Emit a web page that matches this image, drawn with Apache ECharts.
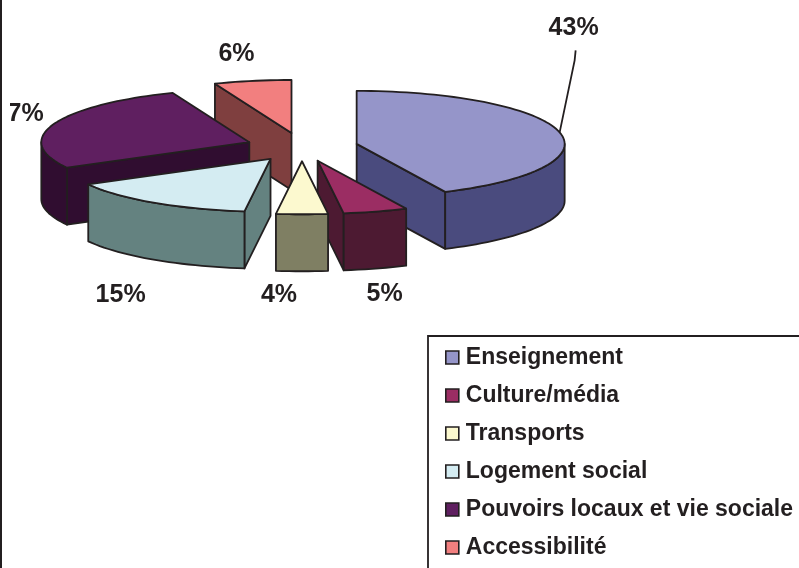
<!DOCTYPE html>
<html>
<head>
<meta charset="utf-8">
<script src="https://cdn.jsdelivr.net/npm/echarts@6/dist/echarts.min.js"></script>
<style>
  html, body { margin: 0; background: #fff; }
  .frame {
    position: relative;
    width: 799px;
    height: 568px;
    overflow: hidden;
    border-left: 2px solid #231f20;
    box-sizing: border-box;
  }
  #chart { position: absolute; left: 8px; top: 0; width: 789px; height: 568px; }
</style>
</head>
<body>
<div class="frame"><div id="chart"></div></div>
<script>
// data
const CATEGORIES = ['Enseignement', 'Culture/média', 'Transports', 'Logement social', 'Pouvoirs locaux et vie sociale', 'Accessibilité']
const VALUES = [43, 5, 4, 15, 27, 6]

// styles
const TOP_COLORS = ['#9595c9', '#9b2d63', '#fcf9cf', '#d4ecf2', '#5f1f60', '#f27f7f']
const SIDE_COLORS = ['#4a4b7e', '#4d1a32', '#7f7f63', '#648280', '#300d30', '#7f3f3f']
const INK = '#231f20'
const FONT = '"Liberation Sans", Arial, sans-serif'

// pseudo-3D geometry (px)
const CX = 292, CY = 147, RX = 208, RY = 53, DEPTH = 57, EXPLODE = 56
// label nudges from the outer mid point of each slice
const LABEL_NUDGE = [[14, -104], [9, 83], [-23, 81], [-33, 92], [-35, -10], [-16, -27]]

const TOTAL = VALUES.reduce((a, b) => a + b, 0)
const rad = (d) => d * Math.PI / 180

function pt(ox, oy, deg, dy = 0) {
  return [ox + RX * Math.sin(rad(deg)), oy - RY * Math.cos(rad(deg)) + dy]
}
function arc(ox, oy, a0, a1, dy = 0) {
  const out = []
  const n = Math.max(2, Math.ceil(Math.abs(a1 - a0) / 2))
  for (let k = 0; k <= n; k++) out.push(pt(ox, oy, a0 + (a1 - a0) * k / n, dy))
  return out
}

function renderSlice(params, api) {
  const i = params.seriesIndex
  const v = api.value(0)
  let before = 0
  for (let k = 0; k < i; k++) before += VALUES[k]
  const a0 = before / TOTAL * 360
  const a1 = a0 + v / TOTAL * 360
  const mid = (a0 + a1) / 2
  // exploded apex
  const ox = CX + EXPLODE * Math.sin(rad(mid))
  const oy = CY - EXPLODE * (RY / RX) * Math.cos(rad(mid))
  const front = -Math.cos(rad(mid))
  const zBase = Math.round((front + 1) * 100) * 4

  const face = (points, fill, z) => ({
    type: 'polygon',
    shape: { points },
    style: { fill, stroke: INK, lineWidth: 1.8, lineJoin: 'round' },
    z2: zBase + z,
  })
  const children = []
  const side = SIDE_COLORS[i]

  // radial cut faces
  if (-Math.cos(rad(a0 - 90)) > 0.01) {
    const p = pt(ox, oy, a0)
    children.push(face([[ox, oy], p, [p[0], p[1] + DEPTH], [ox, oy + DEPTH]], side, 0))
  }
  if (-Math.cos(rad(a1 + 90)) > 0.01) {
    const p = pt(ox, oy, a1)
    children.push(face([[ox, oy], p, [p[0], p[1] + DEPTH], [ox, oy + DEPTH]], side, 0))
  }
  // outer wall (front half only)
  const lo = Math.max(a0, 90), hi = Math.min(a1, 270)
  if (hi > lo) {
    const top = arc(ox, oy, lo, hi)
    const bottom = arc(ox, oy, hi, lo, DEPTH)
    children.push(face(top.concat(bottom), side, 1))
  }
  // top face
  children.push(face([[ox, oy]].concat(arc(ox, oy, a0, a1)), TOP_COLORS[i], 2))

  // percentage label
  const outer = pt(ox, oy, mid)
  const lx = outer[0] + LABEL_NUDGE[i][0]
  const ly = outer[1] + LABEL_NUDGE[i][1]
  children.push({
    type: 'text',
    x: lx,
    y: ly,
    style: {
      text: Math.round(v / TOTAL * 100) + '%',
      font: 'bold 25px ' + FONT,
      fill: INK,
      textAlign: 'center',
      textVerticalAlign: 'middle',
      align: 'center',
      verticalAlign: 'middle',
    },
    z2: 2000,
  })
  // leader line when the label sits far from its slice
  if (Math.hypot(LABEL_NUDGE[i][0], LABEL_NUDGE[i][1]) > 100) {
    children.push({
      type: 'polyline',
      shape: { points: [[lx + 2, ly + 22], [lx + 1, ly + 32], outer] },
      style: { stroke: INK, lineWidth: 1.8, fill: null },
      z2: 2000,
    })
  }
  return { type: 'group', children }
}

const chart = echarts.init(document.getElementById('chart'))
chart.setOption({
  animation: false,
  legend: {
    type: 'plain',
    orient: 'vertical',
    left: 418,
    top: 336,
    width: 600,
    height: 400,
    padding: [10, 40, 30, 17],
    itemWidth: 13,
    itemHeight: 13,
    itemGap: 15,
    icon: 'rect',
    borderColor: INK,
    borderWidth: 1.8,
    itemStyle: { borderColor: INK, borderWidth: 1.6 },
    textStyle: { color: INK, fontSize: 23, fontWeight: 'bold', fontFamily: FONT, lineHeight: 23, padding: [0, 0, 0, 2] },
    data: CATEGORIES,
  },
  series: CATEGORIES.map((name, i) => ({
    type: 'custom',
    name,
    coordinateSystem: 'none',
    silent: true,
    itemStyle: { color: TOP_COLORS[i] },
    data: [[VALUES[i]]],
    renderItem: renderSlice,
  })),
})
</script>
</body>
</html>
